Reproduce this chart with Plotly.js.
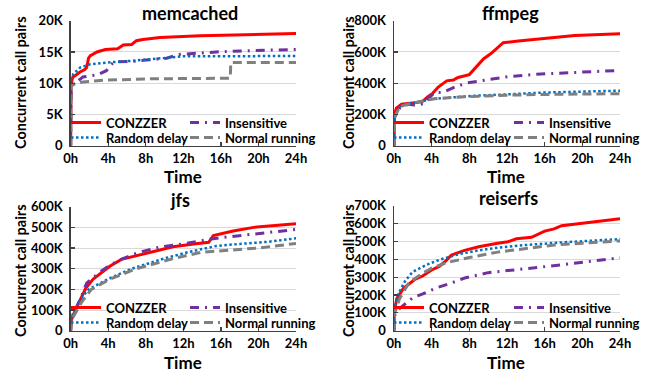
<!DOCTYPE html>
<html>
<head>
<meta charset="utf-8">
<script src="https://cdn.plot.ly/plotly-3.0.1.min.js"></script>
<style>html,body{margin:0;padding:0;background:#fff}#chart{width:658px;height:375px}</style>
</head>
<body>
<div id="chart"></div>
<script>
// ---------- data (values in thousands of call pairs, time in hours) ----------
const seriesNames = ['CONZZER', 'Insensitive', 'Random delay', 'Normal running'];
const panelTitles = ['memcached', 'ffmpeg', 'jfs', 'reiserfs'];
const xAxisTitle = 'Time';
const yAxisTitle = 'Concurrent call pairs';
const hourTicks = [0, 4, 8, 12, 16, 20, 24];
const hourTickLabels = ['0h', '4h', '8h', '12h', '16h', '20h', '24h'];

// memcached
const memConzzerX = [0, 0.03, 0.2, 0.6, 1, 1.5, 1.7, 1.9, 2.1, 2.8, 3.7, 5, 5.6, 6.5, 7, 7.7, 9.5, 13.8, 17.3, 24];
const memConzzerY = [0, 9.7, 10.9, 11.4, 11.8, 12.2, 12.5, 14, 14.4, 15, 15.4, 15.5, 16.1, 16.2, 16.8, 17, 17.3, 17.6, 17.7, 17.95];
const memInsensX = [0, 0.05, 0.5, 1.3, 2.2, 2.8, 3.8, 4.3, 4.7, 6.7, 8, 10.2, 11.6, 15.5, 19, 24];
const memInsensY = [0, 9.5, 10, 11, 11.2, 11.3, 12, 13, 13.4, 13.5, 13.7, 14, 14.6, 15, 15.2, 15.4];
const memRandomX = [0, 0.03, 0.3, 1, 2, 3.8, 6.7, 9.5, 12, 24];
const memRandomY = [0, 10.5, 11.5, 12.5, 13, 13.3, 13.6, 14, 14.3, 14.35];
const memNormalX = [0, 0.05, 0.5, 1.3, 3.8, 8.5, 17, 17.05, 24];
const memNormalY = [0, 9.7, 10, 10.2, 10.5, 10.7, 10.8, 13.3, 13.3];

// ffmpeg
const ffConzzerX = [0, 0.05, 0.25, 0.8, 2.2, 3, 3.6, 4.1, 4.7, 5, 5.6, 6.3, 6.8, 8, 8.6, 9.5, 10.3, 11.6, 13.2, 14.9, 17.8, 19.2, 24];
const ffConzzerY = [0, 200, 240, 265, 275, 282, 314, 335, 375, 390, 415, 420, 437, 455, 495, 555, 590, 659, 670, 680, 695, 705, 717];
const ffInsensX = [0, 0.05, 0.6, 1.5, 2.2, 3.3, 3.6, 4.3, 5.1, 6.5, 7.7, 9.6, 12.1, 15.6, 19.2, 24];
const ffInsensY = [0, 180, 240, 265, 260, 270, 300, 340, 340, 376, 401, 420, 442, 459, 470, 482];
const ffRandomX = [0, 0.05, 0.6, 1.5, 2.5, 4.3, 6.4, 8.6, 11.9, 15.8, 24];
const ffRandomY = [0, 180, 250, 270, 280, 300, 310, 320, 328, 340, 352];
const ffNormalX = [0, 0.05, 0.6, 1.8, 3.3, 4.3, 6.4, 8.9, 11.9, 15.8, 24];
const ffNormalY = [0, 180, 250, 270, 290, 300, 310, 318, 323, 328, 333];

// jfs
const jfsConzzerX = [0, 0.05, 0.5, 1, 1.6, 2.4, 3.7, 4.2, 5.4, 7, 8.8, 10.9, 13.1, 14.7, 15.2, 17.3, 19.5, 24];
const jfsConzzerY = [0, 50, 100, 150, 205, 250, 295, 313, 345, 362, 383, 406, 420, 428, 460, 482, 500, 517];
const jfsInsensX = [0, 0.05, 1, 1.7, 3, 4.2, 5.5, 7.2, 9.5, 12, 14.5, 16, 19, 24];
const jfsInsensY = [0, 60, 150, 230, 280, 318, 348, 378, 405, 420, 440, 450, 465, 490];
const jfsRandomX = [0, 0.05, 0.5, 1, 1.9, 4, 6.5, 10, 12.5, 15.5, 18, 21, 24];
const jfsRandomY = [0, 60, 100, 150, 200, 250, 300, 350, 380, 410, 420, 430, 447];
const jfsNormalX = [0, 0.05, 1.2, 2.2, 4.2, 7, 11, 14, 17, 20, 24];
const jfsNormalY = [0, 50, 140, 200, 250, 300, 350, 380, 390, 400, 422];

// reiserfs
const reiConzzerX = [0, 0.02, 0.3, 1, 2.2, 3, 4, 4.8, 5.4, 6.1, 7.5, 8.2, 9, 11, 12.1, 13, 14.6, 16, 17, 17.8, 19.9, 23, 24];
const reiConzzerY = [0, 100, 180, 237, 287, 305, 340, 360, 386, 424, 450, 461, 470, 490, 498, 515, 523, 558, 570, 588, 601, 620, 627];
const reiInsensX = [0, 0.02, 0.4, 1, 2, 3, 4.5, 6, 7.5, 10, 12, 14.5, 18, 21, 24];
const reiInsensY = [0, 80, 116, 140, 185, 205, 240, 265, 295, 325, 335, 350, 370, 390, 409];
const reiRandomX = [0, 0.02, 0.4, 1.2, 2, 3.5, 5, 7, 9, 11, 14, 18, 24];
const reiRandomY = [0, 120, 200, 280, 330, 370, 400, 430, 450, 465, 480, 495, 513];
const reiNormalX = [0, 0.02, 0.6, 1.6, 3, 4, 5.5, 8, 11, 14, 17, 20, 24];
const reiNormalY = [0, 90, 180, 270, 320, 350, 380, 410, 440, 460, 480, 490, 503];

// y-axis ticks per panel
const memYTicks = [0, 5, 10, 15, 20];
const memYLabels = ['0', '5K', '10K', '15K', '20K'];
const ffYTicks = [0, 200, 400, 600, 800];
const ffYLabels = ['0', '200K', '400K', '600K', '800K'];
const jfsYTicks = [0, 100, 200, 300, 400, 500, 600];
const jfsYLabels = ['0', '100K', '200K', '300K', '400K', '500K', '600K'];
const reiYTicks = [0, 100, 200, 300, 400, 500, 600, 700];
const reiYLabels = ['0', '100K', '200K', '300K', '400K', '500K', '600K', '700K'];

// ---------- styling ----------
const FONT = 'Lato, "Open Sans", "DejaVu Sans", sans-serif';
const styles = [
  {color: '#ff0000', width: 3, dash: 'solid'},
  {color: '#7030a0', width: 3, dash: '9px,6px,2px,6px'},
  {color: '#0070c0', width: 2.5, dash: '2.5px,2.5px'},
  {color: '#808080', width: 3, dash: '9px,5px'}
];

const panels = [
  {series: [[memConzzerX, memConzzerY], [memInsensX, memInsensY], [memRandomX, memRandomY], [memNormalX, memNormalY]],
   yTicks: memYTicks, yLabels: memYLabels, yMax: 20},
  {series: [[ffConzzerX, ffConzzerY], [ffInsensX, ffInsensY], [ffRandomX, ffRandomY], [ffNormalX, ffNormalY]],
   yTicks: ffYTicks, yLabels: ffYLabels, yMax: 800},
  {series: [[jfsConzzerX, jfsConzzerY], [jfsInsensX, jfsInsensY], [jfsRandomX, jfsRandomY], [jfsNormalX, jfsNormalY]],
   yTicks: jfsYTicks, yLabels: jfsYLabels, yMax: 600},
  {series: [[reiConzzerX, reiConzzerY], [reiInsensX, reiInsensY], [reiRandomX, reiRandomY], [reiNormalX, reiNormalY]],
   yTicks: reiYTicks, yLabels: reiYLabels, yMax: 700}
];

const W = 658, H = 375;
// plot areas in pixels: [left, right, top, bottom]
const boxes = [
  [70.7, 296, 20.7, 145.7],
  [394, 620, 20.7, 145.7],
  [70.7, 296, 206.7, 330.7],
  [394, 620, 205.7, 330.7]
];
const titlePos = [[190, 13], [510, 13], [180, 200], [508, 198]];
const xTitlePos = [[183, 176.5], [506, 176.5], [183, 362], [506, 362]];
const yTitlePos = [[20, 83], [348, 83], [20, 271], [348, 271]];
// legend text start x for [col1, col2]
const legendTextX = [[107, 226], [430, 550], [107, 226], [430, 550]];
const legendRows = [[122.5, 137.5], [122.5, 137.5], [307.5, 322.5], [307.5, 322.5]];

const traces = [];
const layout = {
  width: W, height: H,
  margin: {l: 0, r: 0, t: 0, b: 0},
  paper_bgcolor: '#ffffff', plot_bgcolor: '#ffffff',
  font: {family: FONT, color: '#000000'},
  annotations: [],
  showlegend: true
};

function note(text, px, py, size, angle) {
  layout.annotations.push({
    text: text, xref: 'paper', yref: 'paper',
    x: px / W, y: (H - py) / H, textangle: angle || 0,
    xanchor: 'center', yanchor: 'middle', showarrow: false,
    font: {family: FONT, size: size, weight: 'bold', color: '#000'}
  });
}

panels.forEach((p, i) => {
  const n = i + 1;
  const xa = 'xaxis' + (n === 1 ? '' : n), ya = 'yaxis' + (n === 1 ? '' : n);
  const b = boxes[i];
  p.series.forEach((s, k) => {
    const lid = 4 * i + k + 1;
    const key = 'legend' + (lid === 1 ? '' : lid);
    traces.push({
      type: 'scatter', mode: 'lines',
      x: s[0], y: s[1], name: seriesNames[k],
      xaxis: 'x' + (n === 1 ? '' : n), yaxis: 'y' + (n === 1 ? '' : n),
      line: {color: styles[k].color, width: styles[k].width, dash: styles[k].dash},
      legend: key,
      hoverinfo: 'skip'
    });
    layout[key] = {
      x: (legendTextX[i][k % 2] - 41) / W, y: (H - legendRows[i][k < 2 ? 0 : 1]) / H,
      xanchor: 'left', yanchor: 'middle',
      orientation: 'h',
      bgcolor: 'rgba(0,0,0,0)', borderwidth: 0,
      itemwidth: 30, itemclick: false, itemdoubleclick: false,
      font: {family: FONT, size: 13, weight: 'bold', color: '#000'}
    };
  });
  layout[xa] = {
    domain: [b[0] / W, b[1] / W], anchor: 'y' + (n === 1 ? '' : n),
    range: [0, 24], tickvals: hourTicks, ticktext: hourTickLabels,
    showline: true, linecolor: '#404040', linewidth: 1.5,
    ticks: 'inside', ticklen: 4, tickcolor: '#404040', tickwidth: 1.2,
    showgrid: false, zeroline: false, fixedrange: true,
    ticklabelstandoff: 0,
    tickfont: {family: FONT, size: 13, weight: 'bold', color: '#000'}
  };
  layout[ya] = {
    domain: [(H - b[3]) / H, (H - b[2]) / H], anchor: 'x' + (n === 1 ? '' : n),
    range: [0, p.yMax], tickvals: p.yTicks, ticktext: p.yLabels,
    showline: true, linecolor: '#404040', linewidth: 1.5,
    ticks: 'inside', ticklen: 4, tickcolor: '#404040', tickwidth: 1.2,
    showgrid: true, gridcolor: '#d9d9d9', gridwidth: 1, zeroline: false, fixedrange: true,
    ticklabelstandoff: 4,
    tickfont: {family: FONT, size: 13, weight: 'bold', color: '#000'}
  };
  note(panelTitles[i], titlePos[i][0], titlePos[i][1], 18, 0);
  note(xAxisTitle, xTitlePos[i][0], xTitlePos[i][1], 17, 0);
  note(yAxisTitle, yTitlePos[i][0], yTitlePos[i][1], 14.5, -90);
});

Plotly.newPlot('chart', traces, layout, {staticPlot: true, displayModeBar: false});
</script>
</body>
</html>
